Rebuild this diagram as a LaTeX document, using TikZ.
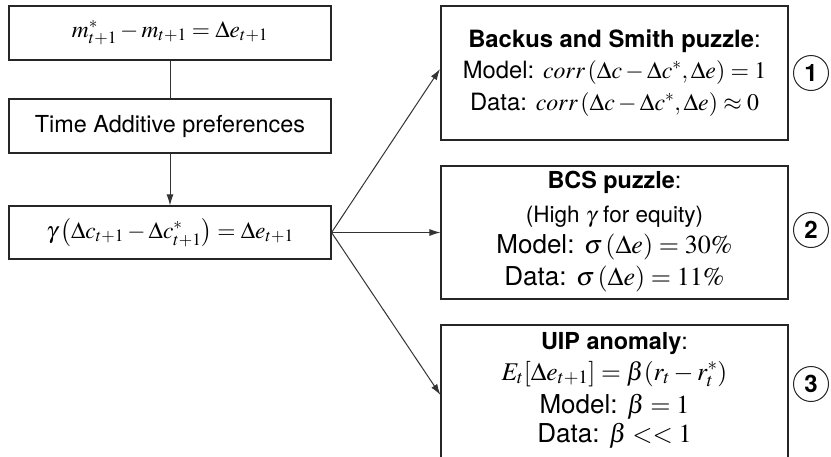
\documentclass[tikz,border=0pt]{standalone}
\usepackage{mathptmx}
\usepackage[no-math]{fontspec}
\setmainfont{TeX Gyre Heros}
\usetikzlibrary{arrows.meta}
\begin{document}
\begin{tikzpicture}[x=1pt,y=-1pt,
  font=\fontsize{23.4}{28}\selectfont,
  box/.style={draw=black!85,line width=1.1pt,inner sep=0pt},
  conn/.style={draw=black!80,line width=1pt},
  arr/.style={conn,-{Latex[length=11pt,width=7pt]}},
  ln/.style={anchor=base,inner sep=0pt},
  mid/.style={ln,font=\fontsize{23.8}{28}\selectfont},
  big/.style={ln,font=\fontsize{26}{30}\selectfont},
  small/.style={ln,font=\fontsize{22.5}{26}\selectfont},
  num/.style={circle,draw=black!85,line width=1pt,minimum size=35pt,inner sep=0pt,font=\fontsize{24}{28}\selectfont\bfseries}]
\useasboundingbox (0,0) rectangle (831,456);
% left column
\node[box,minimum width=322pt,minimum height=54pt] (a) at (170,33) {$m^*_{t+1}-m_{t+1}=\Delta e_{t+1}$};
\node[box,minimum width=322pt,minimum height=54pt] (b) at (170,126) {Time Additive preferences};
\node[box,minimum width=322pt,minimum height=53pt] (c) at (170,232.5) {$\gamma\left(\Delta c_{t+1}-\Delta c^*_{t+1}\right)=\Delta e_{t+1}$};
\draw[conn] (a) -- (b);
\draw[arr] (b) -- (c);
% box 1
\node[box,minimum width=347pt,minimum height=134pt] (p1) at (614.5,73) {};
\node[mid] (t1a) at (614.5,47) {\textbf{Backus and Smith puzzle}:};
\node[mid] (t1b) at (614.5,78) {Model: $corr\left(\Delta c-\Delta c^*,\Delta e\right)=1$};
\node[mid] (t1c) at (614.5,110) {Data: $corr\left(\Delta c-\Delta c^*,\Delta e\right)\approx 0$};
% box 2
\node[box,minimum width=347pt,minimum height=133pt] (p2) at (614.5,232.5) {};
\node[ln] (t2a) at (614.5,188) {\textbf{BCS puzzle}:};
\node[small] (t2b) at (614.5,222) {(High $\gamma$ for equity)};
\node[big] (t2c) at (614.5,253) {Model: $\sigma\left(\Delta e\right)=30\%$};
\node[big] (t2d) at (614.5,285) {Data: $\sigma\left(\Delta e\right)=11\%$};
% box 3
\node[box,minimum width=347pt,minimum height=140pt] (p3) at (614.5,395) {};
\node[ln] (t3a) at (614.5,349) {\textbf{UIP anomaly}:};
\node[ln,font=\fontsize{25.5}{30}\selectfont] (t3b) at (614.5,380) {$E_t[\Delta e_{t+1}]=\beta(r_t-r_t^*)$};
\node[big] (t3c) at (614.5,413) {Model: $\beta=1$};
\node[big] (t3d) at (614.5,442) {Data: $\beta<<1$};
% numbers
\node[num] (n1) at (811,73) {1};
\node[num] (n2) at (811,230) {2};
\node[num] (n3) at (811,384) {3};
% arrows
\coordinate (e1) at (440,69);
\draw[arr] (c.east) -- (e1);
\draw[arr] (c.east) -- (p2.west);
\draw[arr] (c.east) -- (p3.west);
\end{tikzpicture}
\end{document}
